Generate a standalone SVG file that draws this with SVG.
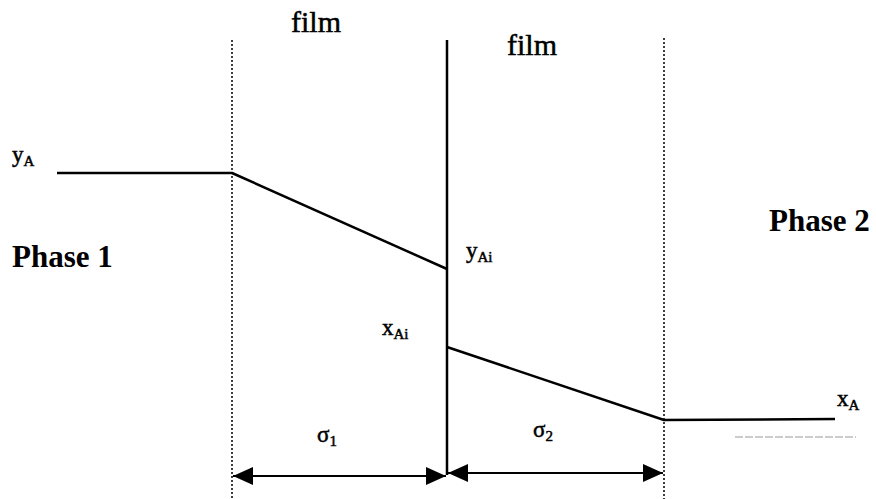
<svg xmlns="http://www.w3.org/2000/svg" width="876" height="499" viewBox="0 0 876 499">
<defs>
<marker id="ah" viewBox="0 0 20 18" refX="20" refY="9" markerWidth="20" markerHeight="18" markerUnits="userSpaceOnUse" orient="auto-start-reverse">
<path d="M0,0 L20,9 L0,18 Z" fill="#000"/>
</marker>
</defs>
<style>
.t{font-family:"Liberation Serif","Times New Roman",serif;fill:#000;stroke:#000;stroke-width:0.5}
.lbl{font-size:30px}
.ph{font-size:31px;font-weight:bold;stroke-width:0}
.sym{font-size:23px}
.sub{font-size:15px}
.dot{stroke:#000;stroke-width:1.5;stroke-dasharray:2 2;fill:none}
.solid{stroke:#000;stroke-width:2.5;fill:none}
.prof{stroke:#000;stroke-width:2.5;fill:none;stroke-linejoin:round}
</style>
<rect width="876" height="499" fill="#fff"/>
<g id="boundaries">
<line class="dot" x1="232" y1="40" x2="232" y2="499"/>
<line class="solid" x1="447" y1="40" x2="447" y2="475"/>
<line class="dot" x1="664" y1="38" x2="664" y2="499"/>
</g>
<g id="connectors">
<polyline class="prof" points="57,173 232,173 447,269"/>
<polyline class="prof" points="447,347 664,420 835,419"/>
<line x1="735" y1="437" x2="856" y2="437" stroke="#999" stroke-width="1" stroke-dasharray="8 2"/>
<line x1="233" y1="476" x2="446" y2="476" stroke="#000" stroke-width="2" marker-start="url(#ah)" marker-end="url(#ah)"/>
<line x1="448" y1="473" x2="663" y2="473" stroke="#000" stroke-width="2" marker-start="url(#ah)" marker-end="url(#ah)"/>
</g>
<g id="film1"><text class="t lbl" x="291" y="32">film</text></g>
<g id="film2"><text class="t lbl" x="507" y="55">film</text></g>
<g id="yA"><text class="t sym" x="12" y="162">y<tspan class="sub" dy="4">A</tspan></text></g>
<g id="phase1"><text class="t ph" x="12" y="267">Phase 1</text></g>
<g id="phase2"><text class="t ph" x="769" y="231">Phase 2</text></g>
<g id="yAi"><text class="t sym" x="466" y="258">y<tspan class="sub" dy="4">Ai</tspan></text></g>
<g id="xAi"><text class="t sym" x="382" y="335">x<tspan class="sub" dy="4">Ai</tspan></text></g>
<g id="sigma1"><text class="t sym" x="317" y="442">σ<tspan class="sub" dy="4">1</tspan></text></g>
<g id="sigma2"><text class="t sym" x="533" y="437">σ<tspan class="sub" dy="4">2</tspan></text></g>
<g id="xA"><text class="t sym" x="837" y="406">x<tspan class="sub" dy="4">A</tspan></text></g>
</svg>
